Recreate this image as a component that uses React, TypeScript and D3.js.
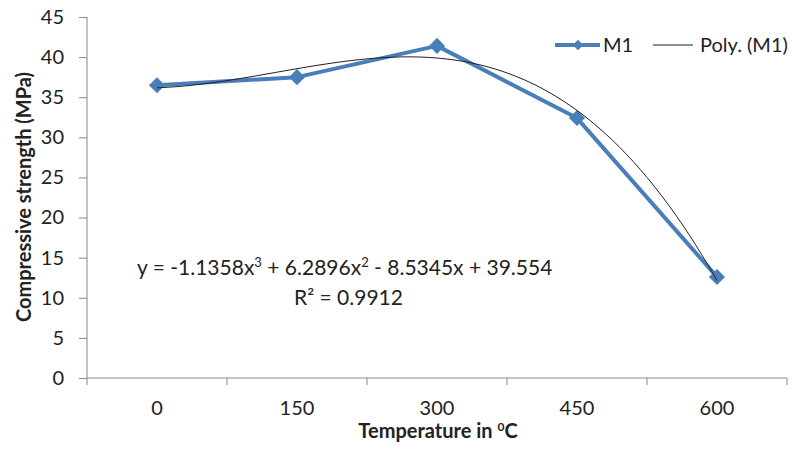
import React, { useEffect, useRef } from 'react';
import * as d3 from 'd3';

const temperatures = ['0', '150', '300', '450', '600'];
const strength = [36.5, 37.5, 41.4, 32.4, 12.6];
const yTicks = [0, 5, 10, 15, 20, 25, 30, 35, 40, 45];
// cubic trendline coefficients (x = category index 1..5), highest power first
const polyCoef = [-1.1358, 6.2896, -8.5345, 39.554];

const App: React.FC = () => {
    const ref = useRef<SVGSVGElement>(null);

    useEffect(() => {
        if (!ref.current) return;
        const svg = d3.select(ref.current);
        svg.selectAll('*').remove();

        const left = 87, right = 787, top = 17, bottom = 378;
        const font = 'Lato, "Open Sans", sans-serif';
        const fs = 20;

        const x = d3.scaleBand().domain(temperatures).range([left, right]);
        const y = d3.scaleLinear().domain([0, 45]).range([bottom, top]);
        const xc = (i: number) => (x(temperatures[i]) as number) + x.bandwidth() / 2;

        // y axis
        const yAxis = svg.append('g')
            .attr('transform', `translate(${left},0)`)
            .call(d3.axisLeft(y).tickValues(yTicks).tickSize(8).tickPadding(15));
        yAxis.select('.domain').attr('stroke', '#888').attr('d', `M0,${top}V${bottom}`);
        yAxis.selectAll('.tick line').attr('stroke', '#888');
        yAxis.selectAll('.tick text')
            .attr('font-family', font).attr('font-size', fs).attr('fill', '#222');

        // x axis
        const xAxis = svg.append('g')
            .attr('transform', `translate(0,${bottom})`)
            .call(d3.axisBottom(x).tickSize(0));
        xAxis.select('.domain').attr('stroke', '#888').attr('d', `M${left},0H${right}`);
        xAxis.selectAll('.tick text')
            .attr('y', 37).attr('dy', 0)
            .attr('font-family', font).attr('font-size', fs).attr('fill', '#222');
        xAxis.selectAll('.sep')
            .data(d3.range(temperatures.length + 1))
            .enter()
            .append('line')
            .attr('x1', d => left + d * x.step())
            .attr('x2', d => left + d * x.step())
            .attr('y1', 0).attr('y2', 7)
            .attr('stroke', '#888');

        // data line
        const line = d3.line<number>().x((_, i) => xc(i)).y(d => y(d));
        svg.append('path')
            .datum(strength)
            .attr('d', line)
            .attr('fill', 'none')
            .attr('stroke', '#4a7ebb')
            .attr('stroke-width', 4)
            .attr('stroke-linejoin', 'round');

        const diamond = d3.symbol().type(d3.symbolDiamond2).size(165);
        svg.selectAll('.pt')
            .data(strength)
            .enter()
            .append('path')
            .attr('d', diamond)
            .attr('transform', (d, i) => `translate(${xc(i)},${y(d)})`)
            .attr('fill', '#4a7ebb');

        // polynomial trendline
        const poly = (t: number) => polyCoef.reduce((acc, c) => acc * t + c, 0);
        const ts = d3.range(1, 5.001, 0.05);
        const px = d3.scaleLinear().domain([1, 5]).range([xc(0), xc(4)]);
        svg.append('path')
            .datum(ts)
            .attr('d', d3.line<number>().x(t => px(t)).y(t => y(poly(t))).curve(d3.curveBasis))
            .attr('fill', 'none')
            .attr('stroke', '#222')
            .attr('stroke-width', 1);

        // equation
        const eq = svg.append('text')
            .attr('x', 137).attr('y', 275)
            .attr('font-family', font).attr('font-size', 21).attr('fill', '#222');
        eq.append('tspan').text('y = -1.1358x');
        eq.append('tspan').text('3').attr('font-size', 13).attr('dy', -8);
        eq.append('tspan').text(' + 6.2896x').attr('dy', 8);
        eq.append('tspan').text('2').attr('font-size', 13).attr('dy', -8);
        eq.append('tspan').text(' - 8.5345x + 39.554').attr('dy', 8);
        svg.append('text')
            .attr('x', 294).attr('y', 305)
            .attr('font-family', font).attr('font-size', 21).attr('fill', '#222')
            .text('R² = 0.9912');

        // legend
        const lg = svg.append('g');
        lg.append('line').attr('x1', 555).attr('x2', 600).attr('y1', 45).attr('y2', 45)
            .attr('stroke', '#4a7ebb').attr('stroke-width', 4);
        lg.append('path').attr('d', d3.symbol().type(d3.symbolDiamond2).size(70))
            .attr('transform', 'translate(578,45)').attr('fill', '#4a7ebb');
        lg.append('text').attr('x', 603).attr('y', 52)
            .attr('font-family', font).attr('font-size', fs).attr('fill', '#222').text('M1');
        lg.append('line').attr('x1', 653).attr('x2', 693).attr('y1', 45).attr('y2', 45)
            .attr('stroke', '#222').attr('stroke-width', 1);
        lg.append('text').attr('x', 700).attr('y', 52)
            .attr('font-family', font).attr('font-size', fs).attr('fill', '#222').text('Poly. (M1)');

        // axis titles
        const xt = svg.append('text')
            .attr('x', 438).attr('y', 438)
            .attr('text-anchor', 'middle')
            .attr('font-family', font).attr('font-size', fs).attr('font-weight', 'bold').attr('fill', '#222');
        xt.append('tspan').text('Temperature in ');
        xt.append('tspan').text('0').attr('font-size', 12).attr('dy', -7);
        xt.append('tspan').text('C').attr('dy', 7);

        svg.append('text')
            .attr('transform', 'translate(31,197) rotate(-90)')
            .attr('text-anchor', 'middle')
            .attr('font-family', font).attr('font-size', fs).attr('font-weight', 'bold').attr('fill', '#222')
            .text('Compressive strength (MPa)');
    }, []);

    return (
        <svg ref={ref} width={792} height={451}
            style={{ position: 'absolute', left: 0, top: 0, background: '#fff' }} />
    );
};

export default App;
